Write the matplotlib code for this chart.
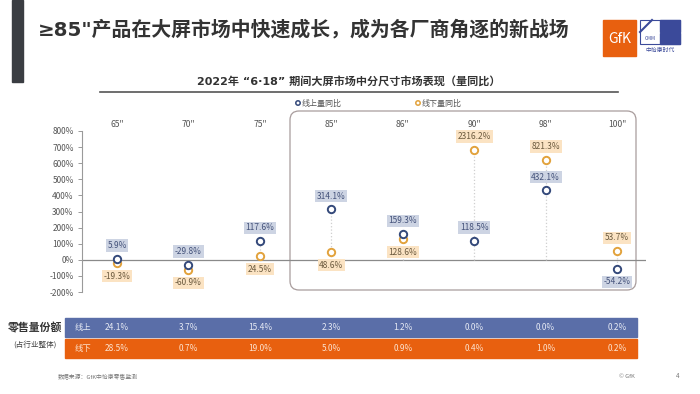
import matplotlib
matplotlib.use("Agg")
import matplotlib.pyplot as plt
import matplotlib.transforms as mtransforms
from matplotlib.patches import Rectangle, FancyBboxPatch

plt.rcParams['font.family'] = ['Noto Sans CJK SC', 'DejaVu Sans']

# data
sizes = ['65"', '70"', '75"', '85"', '86"', '90"', '98"', '100"']
online_yoy = [5.9, -29.8, 117.6, 314.1, 159.3, 118.5, 432.1, -54.2]
offline_yoy = [-19.3, -60.9, 24.5, 48.6, 128.6, 2316.2, 821.3, 53.7]
# where the offline points sit on the (broken) axis in the picture
offline_pos = [-19.3, -60.9, 24.5, 48.6, 128.6, 683, 621, 53.7]
online_share = [24.1, 3.7, 15.4, 2.3, 1.2, 0.0, 0.0, 0.2]
offline_share = [28.5, 0.7, 19.0, 5.0, 0.9, 0.4, 1.0, 0.2]
on_label_above = [True, True, True, True, True, True, True, False]
off_label_above = [False, False, False, False, False, True, True, True]
yticks = [-200, -100, 0, 100, 200, 300, 400, 500, 600, 700, 800]

W, H = 700, 394
fig = plt.figure(figsize=(7, 3.94), dpi=100)

# background axes in pixel coordinates
bg = fig.add_axes([0, 0, 1, 1])
bg.set_xlim(0, W)
bg.set_ylim(H, 0)
bg.axis('off')

# main chart axes: x from 82px to 646px, y from 131px to 292px
ax = fig.add_axes([82 / W, 1 - 292 / H, (646 - 82) / W, (292 - 131) / H])
ax.set_xlim(-0.49, 7.405)
ax.set_ylim(-200, 800)
ax.patch.set_alpha(0)
for s in ['top', 'right', 'bottom']:
    ax.spines[s].set_visible(False)
ax.spines['left'].set_color('#9a9a9a')
ax.spines['left'].set_linewidth(0.8)
ax.set_xticks([])
ax.set_yticks(yticks)
ax.set_yticklabels([f'{v}%' for v in yticks])
ax.tick_params(axis='y', length=3, width=0.7, color='#9a9a9a', labelsize=6,
               labelcolor='#555555', pad=3)
ax.axhline(0, color='#8a8a8a', lw=0.9, zorder=1)

xs = list(range(len(sizes)))

# drop lines
for i in xs:
    lo = min(0, online_yoy[i], offline_pos[i])
    hi = max(online_yoy[i], offline_pos[i])
    ax.vlines(i, lo, hi, colors='#cfcfcf', linestyles=':', lw=0.9, zorder=1)

ax.scatter(xs, offline_pos, s=28, facecolors='white', edgecolors='#e2a23c',
           linewidths=1.4, zorder=3, clip_on=False)
ax.scatter(xs, online_yoy, s=28, facecolors='white', edgecolors='#34497a',
           linewidths=1.4, zorder=4, clip_on=False)

for i in xs:
    dy = 9.5 if on_label_above[i] else -9.5
    ax.annotate(f'{online_yoy[i]}%', (i, online_yoy[i]), xytext=(0, dy),
                textcoords='offset points', ha='center', va='center',
                fontsize=6, color='#44527a', zorder=5,
                bbox=dict(boxstyle='square,pad=0.2', fc='#cdd4e3', ec='none'))
    dy = 9.5 if off_label_above[i] else -9.5
    ax.annotate(f'{offline_yoy[i]}%', (i, offline_pos[i]), xytext=(0, dy),
                textcoords='offset points', ha='center', va='center',
                fontsize=6, color='#6b5a3e', zorder=5,
                bbox=dict(boxstyle='square,pad=0.2', fc='#fbe3c3', ec='none'))

# x from chart data, y in pixels
tr = mtransforms.blended_transform_factory(ax.transData, bg.transData)
for i, name in enumerate(sizes):
    bg.text(i, 124, name, transform=tr, ha='center', va='center',
            fontsize=6.2, color='#555555')

# highlight box around the >=85" sizes
bg.add_patch(FancyBboxPatch((290, 111), 346, 179,
                            boxstyle='round,pad=0,rounding_size=9',
                            fc='none', ec='#a89c9c', lw=0.9, zorder=0))

# legend
bg.scatter([298, 418], [103, 103], s=10, facecolors='white',
           edgecolors=['#34497a', '#e2a23c'], linewidths=1.1)
bg.text(302, 103, '线上量同比', fontsize=5.8, color='#555555', va='center')
bg.text(422, 103, '线下量同比', fontsize=5.8, color='#555555', va='center')

# header
bg.add_patch(Rectangle((12, 0), 11, 82, color='#3a3d42'))
bg.text(38, 30, '≥85"产品在大屏市场中快速成长，成为各厂商角逐的新战场',
        fontsize=14.3, fontweight='bold', color='#333333', va='center',
        family=['DejaVu Sans', 'Noto Sans CJK SC'])
bg.text(349, 82, '2022年 “6·18” 期间大屏市场中分尺寸市场表现（量同比）',
        fontsize=8.0, fontweight='bold', color='#333333', ha='center',
        va='center', family=['DejaVu Sans', 'Noto Sans CJK SC'])
bg.plot([100, 618], [92, 92], color='#555555', lw=1.2)

# logos
bg.add_patch(Rectangle((603, 20), 33, 36, color='#e8600f'))
bg.text(619.5, 39, 'GfK', fontsize=10, color='white', ha='center', va='center')
bg.add_patch(Rectangle((640, 20), 40, 24, fc='white', ec='#3b4a9a', lw=0.8))
bg.add_patch(Rectangle((660, 20), 20, 12, color='#3b4a9a'))
bg.add_patch(Rectangle((660, 33), 20, 11, color='#3b4a9a'))
bg.plot([640, 652], [32, 20], color='#3b4a9a', lw=1.5)
bg.text(650, 38, 'CMM', fontsize=3.5, color='#3b4a9a', ha='center', va='center')
bg.text(660, 50, '中怡康时代', fontsize=4.2, color='#3b4a9a', ha='center', va='center')

# share table
bg.add_patch(Rectangle((65, 318), 572, 19, color='#5a6ea8'))
bg.add_patch(Rectangle((65, 339), 572, 19, color='#e8600f'))
bg.text(83, 327.5, '线上', fontsize=6, color='#e6eaf4', ha='center', va='center')
bg.text(83, 348.5, '线下', fontsize=6, color='#fde3cf', ha='center', va='center')
for i in xs:
    bg.text(i, 327.5, f'{online_share[i]:.1f}%', transform=tr, fontsize=6,
            color='#e6eaf4', ha='center', va='center')
    bg.text(i, 348.5, f'{offline_share[i]:.1f}%', transform=tr, fontsize=6,
            color='#fde3cf', ha='center', va='center')
bg.text(35, 328, '零售量份额', fontsize=7.8, fontweight='bold', color='#333333',
        ha='center', va='center')
bg.text(35, 345, '(占行业整体)', fontsize=5.5, color='#444444',
        ha='center', va='center')

# footer
bg.text(58, 376, '数据来源：GfK中怡康零售监测', fontsize=4.2, color='#777777', va='center')
bg.text(627, 376, '© GfK', fontsize=4.2, color='#777777', ha='center', va='center')
bg.text(678, 376, '4', fontsize=4.5, color='#777777', ha='center', va='center')

fig.savefig('out.png', dpi=100)
